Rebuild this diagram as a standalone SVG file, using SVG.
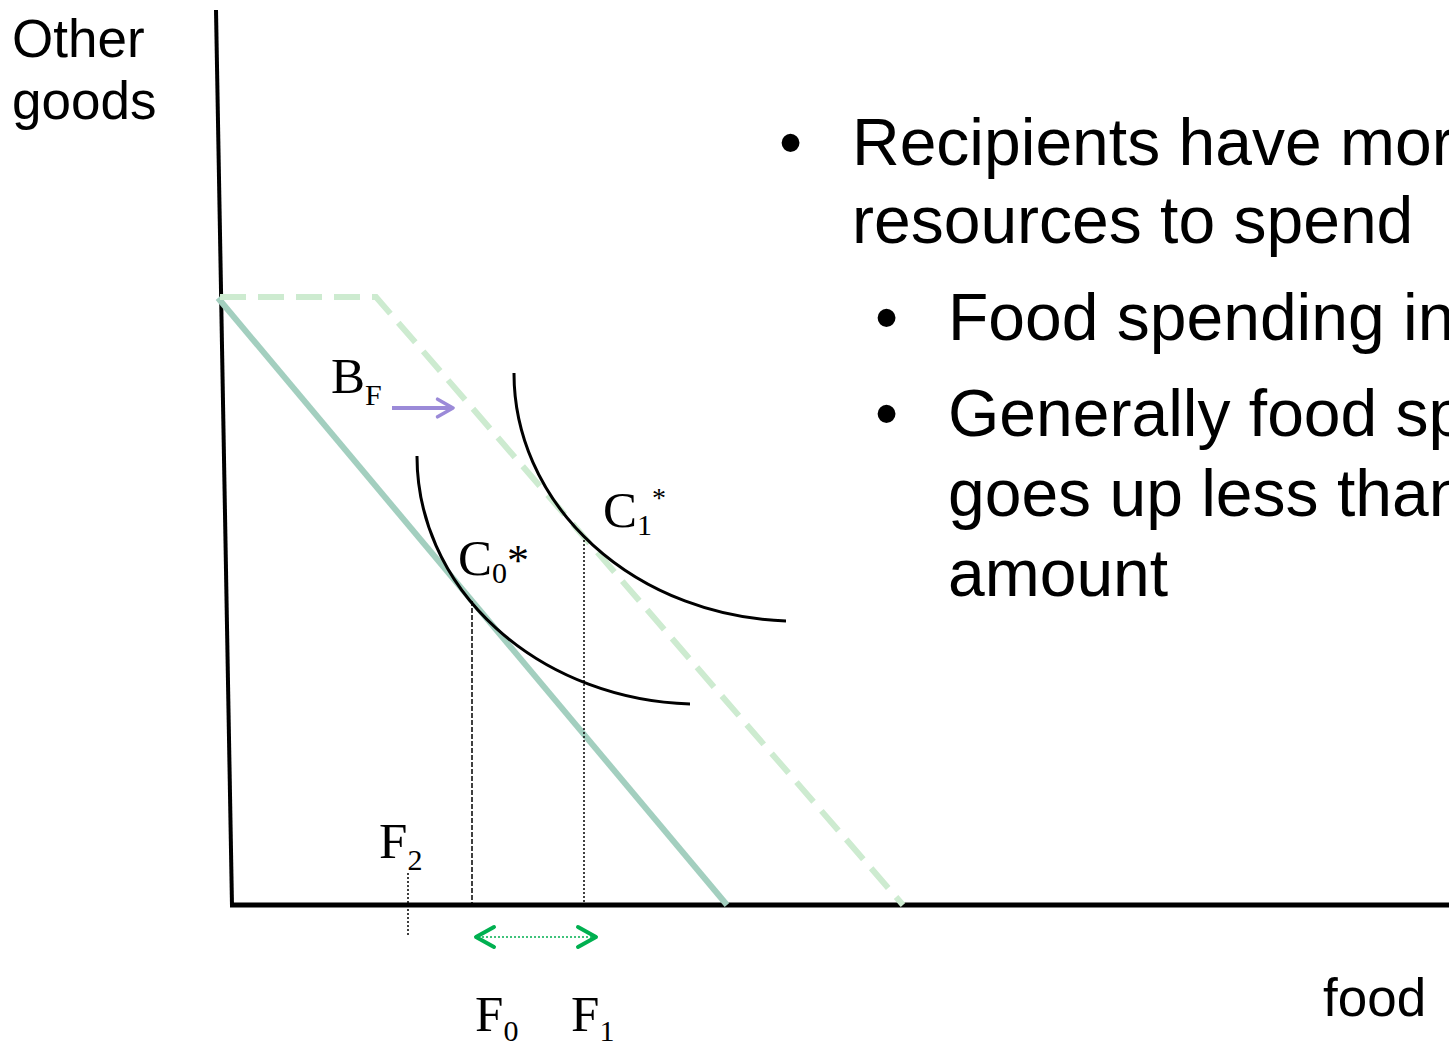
<svg xmlns="http://www.w3.org/2000/svg" width="1449" height="1045" viewBox="0 0 1449 1045">
<style>
.sans{font-family:"Liberation Sans",Arial,sans-serif;fill:#000}
.serif{font-family:"Liberation Serif","Times New Roman",serif;fill:#000}
.big{font-size:66px}
.ax{font-size:53px}
.lab{font-size:51px}
.sub{font-size:30px}
.curve{fill:none;stroke:#000;stroke-width:3}
</style>
<defs>
<marker id="purpleHead" viewBox="0 0 10 10" refX="8" refY="5" markerWidth="5.5" markerHeight="5.5" orient="auto" markerUnits="strokeWidth">
<path d="M1,1 L8,5 L1,9" fill="none" stroke="#9b8ad8" stroke-width="1.6" stroke-linecap="round" stroke-linejoin="round"/>
</marker>
</defs>
<rect width="1449" height="1045" fill="#fff"/>
<g id="axes">
<line x1="216" y1="10" x2="232" y2="906" stroke="#000" stroke-width="4"/>
<line x1="230" y1="905" x2="1449" y2="905" stroke="#000" stroke-width="5"/>
</g>
<g id="connectors">
<line id="budget0" x1="218" y1="298" x2="727" y2="905" stroke="#a3cfbf" stroke-width="6"/>
<polyline id="budget1" points="220,297 376,297 903,905" fill="none" stroke="#cdebd0" stroke-width="6" stroke-dasharray="26,12"/>
<line x1="472" y1="601" x2="472" y2="905" stroke="#000" stroke-width="1.5" stroke-dasharray="5,2"/>
<line x1="584" y1="540" x2="584" y2="905" stroke="#000" stroke-width="1.5" stroke-dasharray="2,2"/>
<line x1="408" y1="873" x2="408" y2="935" stroke="#000" stroke-width="1.5" stroke-dasharray="2,2"/>
<line x1="392" y1="408" x2="453" y2="408" stroke="#9b8ad8" stroke-width="4" marker-end="url(#purpleHead)"/>
<line x1="478" y1="937" x2="594" y2="937" stroke="#00b050" stroke-width="1.5" stroke-dasharray="2,2"/>
<path d="M494,927 L476,937 L494,947" fill="none" stroke="#00b050" stroke-width="4" stroke-linecap="round" stroke-linejoin="round"/>
<path d="M578,927 L596,937 L578,947" fill="none" stroke="#00b050" stroke-width="4" stroke-linecap="round" stroke-linejoin="round"/>
</g>
<g id="curveC0"><path class="curve" d="M417,456 A283,248 0 0 0 690,704"/></g>
<g id="curveC1"><path class="curve" d="M514,373 A283,248 0 0 0 786,621"/></g>
<g id="labels">
<text class="sans ax" x="12" y="57">Other</text>
<text class="sans ax" x="12" y="119">goods</text>
<text class="sans ax" x="1323" y="1016">food</text>
<text class="serif lab" x="331" y="393">B<tspan class="sub" dy="12">F</tspan></text>
<text class="serif lab" x="458" y="575">C<tspan class="sub" dy="8">0</tspan><tspan style="font-size:44px" dy="-8">*</tspan></text>
<text class="serif lab" x="603" y="527">C<tspan class="sub" dy="8">1</tspan><tspan style="font-size:28px" dy="-28">*</tspan></text>
<text class="serif lab" x="379" y="858">F<tspan class="sub" dy="12">2</tspan></text>
<text class="serif lab" x="475" y="1031">F<tspan class="sub" dy="10">0</tspan></text>
<text class="serif lab" x="571" y="1031">F<tspan class="sub" dy="10">1</tspan></text>
</g>
<g id="bullets">
<text class="sans big" x="779" y="165">•</text>
<text class="sans big" x="852" y="165">Recipients have more</text>
<text class="sans big" x="852" y="243">resources to spend</text>
<text class="sans big" x="875" y="340">•</text>
<text class="sans big" x="948" y="340">Food spending in</text>
<text class="sans big" x="875" y="436">•</text>
<text class="sans big" x="948" y="436">Generally food sp</text>
<text class="sans big" x="948" y="516">goes up less than</text>
<text class="sans big" x="948" y="596">amount</text>
</g>
</svg>
